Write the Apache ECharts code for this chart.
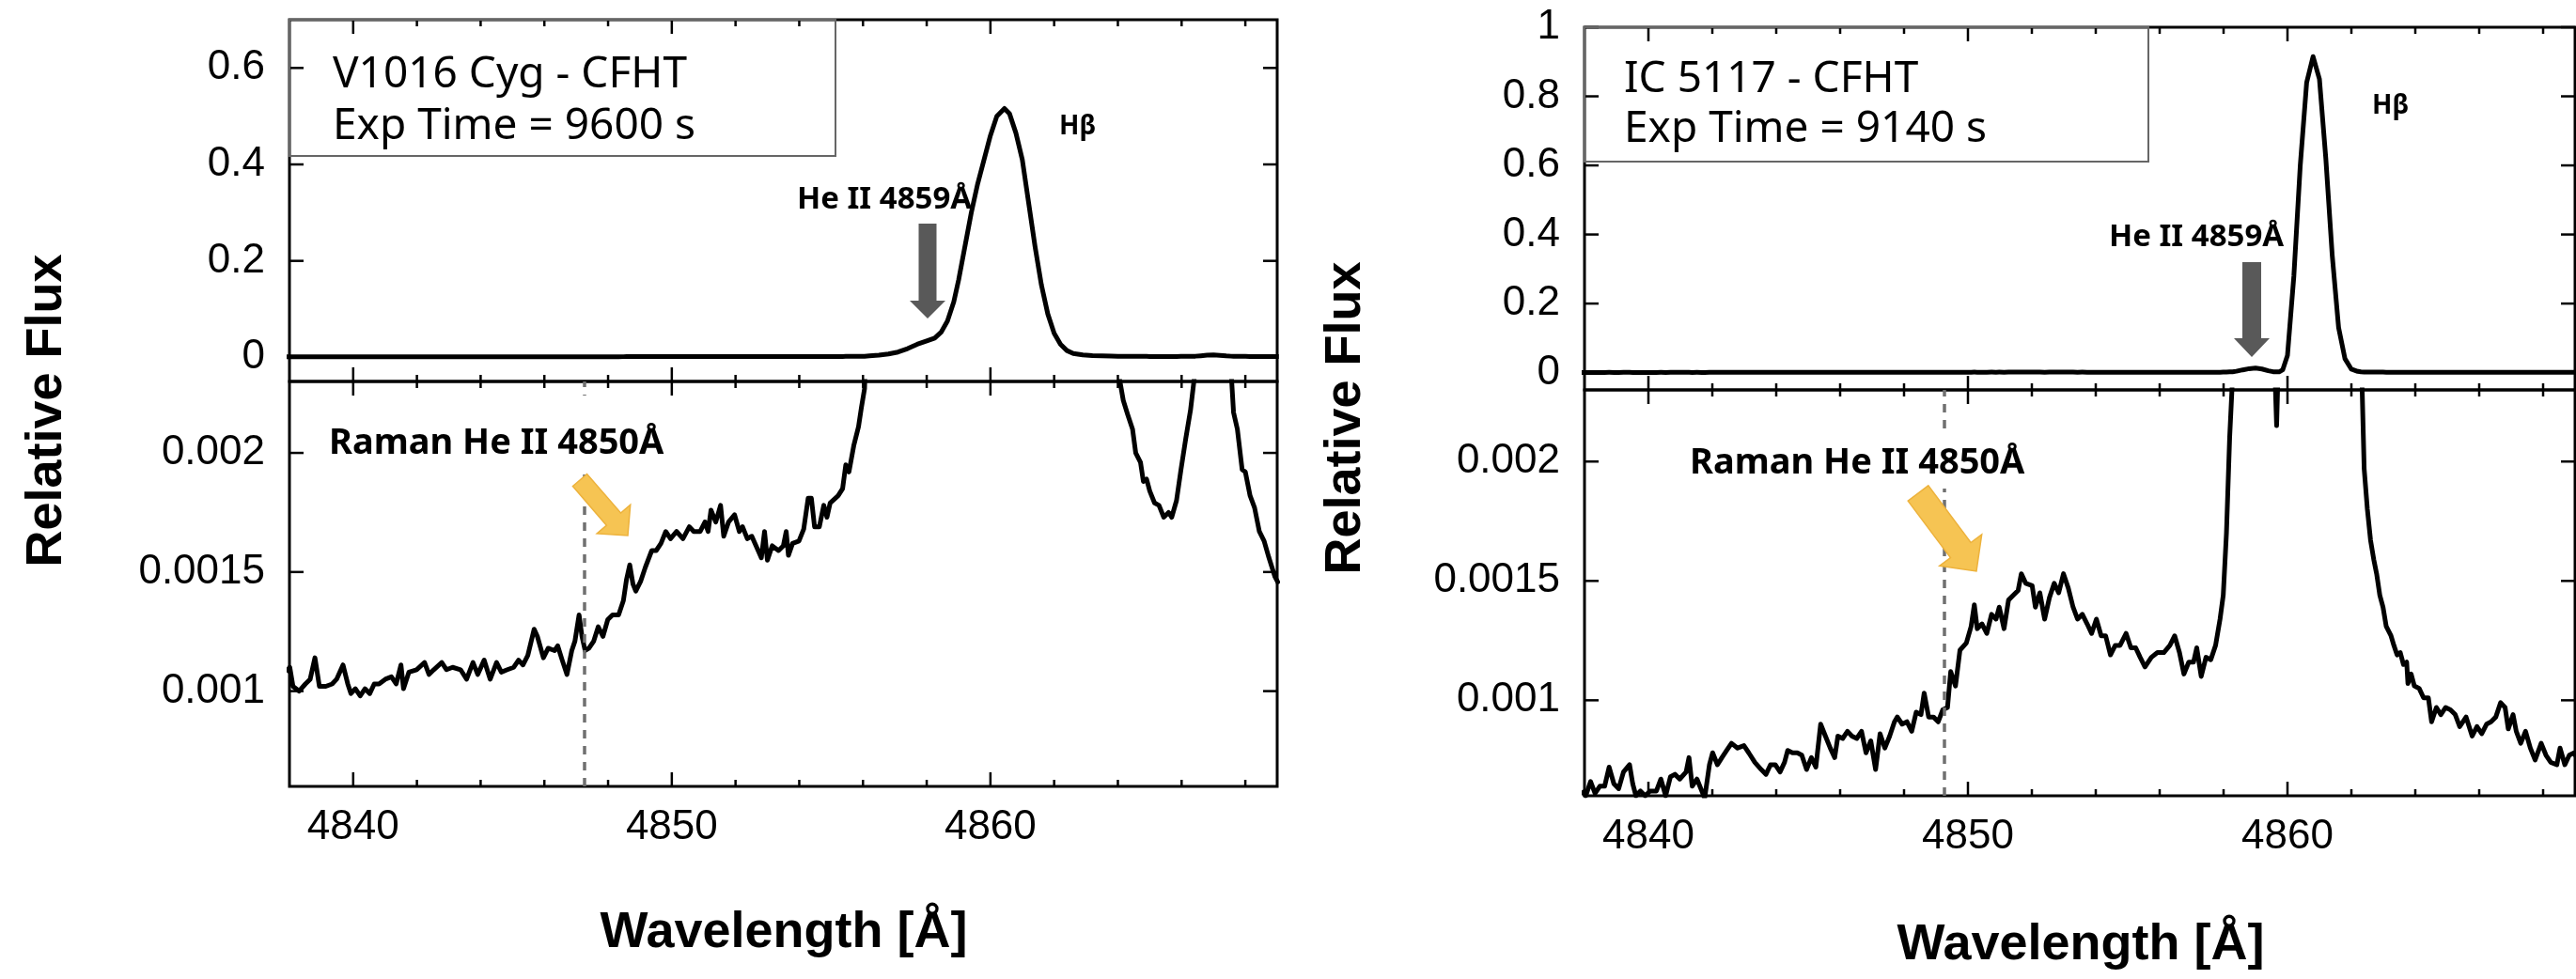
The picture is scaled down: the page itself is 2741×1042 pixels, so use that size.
<!DOCTYPE html>
<html>
<head>
<meta charset="utf-8">
<title>Raman He II 4850 - V1016 Cyg / IC 5117</title>
<script src="https://cdn.jsdelivr.net/npm/echarts@6/dist/echarts.min.js"></script>
<style>
  html, body { margin: 0; padding: 0; background: #fff; }
  #chart { width: 2741px; height: 1042px; }
</style>
</head>
<body>
<div id="chart"></div>
<script>
// V1016 Cyg - CFHT, wavelength [A] and relative flux
const v1016Wave = [
  4837.90, 4838.01, 4838.11, 4838.30, 4838.50, 4838.65, 4838.80, 4838.94, 4839.14, 4839.34,
  4839.48, 4839.68, 4839.83, 4839.93, 4840.07, 4840.22, 4840.37, 4840.52, 4840.66, 4840.81,
  4841.01, 4841.20, 4841.35, 4841.50, 4841.58, 4841.75, 4841.99, 4842.24, 4842.38, 4842.53,
  4842.78, 4842.93, 4843.12, 4843.37, 4843.56, 4843.76, 4843.91, 4844.11, 4844.30, 4844.50,
  4844.65, 4844.84, 4845.04, 4845.19, 4845.33, 4845.48, 4845.68, 4845.78, 4845.97, 4846.12,
  4846.32, 4846.42, 4846.56, 4846.71, 4846.86, 4846.96, 4847.09, 4847.18, 4847.28, 4847.40,
  4847.55, 4847.69, 4847.84, 4847.99, 4848.14, 4848.33, 4848.48, 4848.58, 4848.68, 4848.78,
  4848.87, 4849.02, 4849.17, 4849.37, 4849.51, 4849.66, 4849.81, 4849.96, 4850.15, 4850.35,
  4850.55, 4850.69, 4850.89, 4851.04, 4851.14, 4851.23, 4851.38, 4851.53, 4851.63, 4851.78,
  4851.97, 4852.12, 4852.22, 4852.37, 4852.51, 4852.71, 4852.81, 4852.91, 4853.00, 4853.15,
  4853.35, 4853.50, 4853.59, 4853.66, 4853.79, 4853.99, 4854.14, 4854.28, 4854.38, 4854.48,
  4854.63, 4854.77, 4854.87, 4854.97, 4855.22, 4855.36, 4855.46, 4855.56, 4855.71, 4855.86,
  4855.95, 4856.05, 4856.20, 4856.50, 4856.80, 4857.10, 4857.40, 4857.70, 4858.00, 4858.25,
  4858.45, 4858.65, 4858.85, 4859.00, 4859.20, 4859.40, 4859.60, 4859.80, 4860.00, 4860.20,
  4860.44, 4860.60, 4860.80, 4861.00, 4861.20, 4861.40, 4861.60, 4861.80, 4862.00, 4862.20,
  4862.40, 4862.60, 4862.90, 4863.20, 4863.50, 4863.80, 4864.00, 4864.17, 4864.31, 4864.46,
  4864.56, 4864.71, 4864.80, 4864.90, 4865.00, 4865.15, 4865.29, 4865.44, 4865.59, 4865.69,
  4865.84, 4865.98, 4866.13, 4866.28, 4866.43, 4866.60, 4866.80, 4867.00, 4867.20, 4867.40,
  4867.55, 4867.63, 4867.75, 4867.90, 4868.00, 4868.15, 4868.29, 4868.44, 4868.59, 4868.74,
  4868.93, 4869.05
];
const v1016Flux = [
  0.00108, 0.00110, 0.00102, 0.00100, 0.00103, 0.00105, 0.00114, 0.00102, 0.00102, 0.00103,
  0.00105, 0.00111, 0.00103, 0.00099, 0.00101, 0.00098, 0.00101, 0.00099, 0.00103, 0.00103,
  0.00105, 0.00106, 0.00103, 0.00111, 0.00101, 0.00108, 0.00109, 0.00112, 0.00107, 0.00109,
  0.00112, 0.00109, 0.00110, 0.00109, 0.00105, 0.00112, 0.00107, 0.00113, 0.00105, 0.00112,
  0.00108, 0.00109, 0.00110, 0.00113, 0.00111, 0.00115, 0.00126, 0.00123, 0.00114, 0.00118,
  0.00117, 0.00119, 0.00113, 0.00107, 0.00117, 0.00121, 0.00132, 0.00123, 0.00117, 0.00118,
  0.00121, 0.00127, 0.00123, 0.00130, 0.00132, 0.00132, 0.00138, 0.00147, 0.00153, 0.00145,
  0.00142, 0.00146, 0.00152, 0.00159, 0.00159, 0.00162, 0.00167, 0.00164, 0.00167, 0.00164,
  0.00169, 0.00167, 0.00167, 0.00171, 0.00167, 0.00176, 0.00171, 0.00178, 0.00165, 0.00171,
  0.00174, 0.00167, 0.00169, 0.00164, 0.00165, 0.00159, 0.00156, 0.00167, 0.00155, 0.00161,
  0.00159, 0.00161, 0.00167, 0.00157, 0.00162, 0.00163, 0.00168, 0.00181, 0.00181, 0.00169,
  0.00169, 0.00178, 0.00173, 0.00179, 0.00182, 0.00185, 0.00195, 0.00192, 0.00203, 0.00211,
  0.00219, 0.00227, 0.0030, 0.0045, 0.0070, 0.011, 0.018, 0.027, 0.034, 0.040,
  0.052, 0.075, 0.115, 0.160, 0.230, 0.300, 0.360, 0.410, 0.460, 0.500,
  0.516, 0.505, 0.465, 0.410, 0.320, 0.230, 0.150, 0.090, 0.050, 0.027,
  0.014, 0.008, 0.005, 0.0036, 0.0029, 0.0025, 0.00235, 0.00222, 0.00216, 0.00210,
  0.00200, 0.00196, 0.00188, 0.00189, 0.00184, 0.00179, 0.00178, 0.00173, 0.00175, 0.00173,
  0.00180, 0.00193, 0.00206, 0.00218, 0.00235, 0.0033, 0.0045, 0.0049, 0.0041, 0.0029,
  0.00235, 0.00217, 0.00210, 0.00193, 0.00192, 0.00182, 0.00177, 0.00167, 0.00163, 0.00156,
  0.00148, 0.00145
];

// IC 5117 - CFHT
const ic5117Wave = [
  4837.90, 4838.04, 4838.19, 4838.33, 4838.48, 4838.63, 4838.77, 4838.92, 4839.07, 4839.22,
  4839.41, 4839.51, 4839.61, 4839.75, 4839.90, 4840.05, 4840.25, 4840.39, 4840.54, 4840.69,
  4840.83, 4840.98, 4841.18, 4841.27, 4841.37, 4841.52, 4841.67, 4841.76, 4841.91, 4842.01,
  4842.16, 4842.30, 4842.45, 4842.60, 4842.79, 4842.99, 4843.14, 4843.33, 4843.53, 4843.68,
  4843.82, 4843.97, 4844.12, 4844.26, 4844.36, 4844.51, 4844.66, 4844.80, 4844.95, 4845.10,
  4845.24, 4845.39, 4845.54, 4845.69, 4845.83, 4845.93, 4846.08, 4846.23, 4846.37, 4846.52,
  4846.67, 4846.81, 4846.96, 4847.11, 4847.25, 4847.40, 4847.55, 4847.70, 4847.79, 4847.94,
  4848.09, 4848.24, 4848.38, 4848.53, 4848.63, 4848.77, 4848.92, 4849.07, 4849.21, 4849.36,
  4849.46, 4849.61, 4849.75, 4849.95, 4850.10, 4850.20, 4850.29, 4850.44, 4850.59, 4850.74,
  4850.88, 4850.98, 4851.13, 4851.27, 4851.42, 4851.57, 4851.67, 4851.81, 4852.01, 4852.11,
  4852.25, 4852.40, 4852.55, 4852.70, 4852.84, 4852.99, 4853.14, 4853.29, 4853.43, 4853.58,
  4853.73, 4853.87, 4854.02, 4854.17, 4854.31, 4854.46, 4854.61, 4854.76, 4854.95, 4855.10,
  4855.25, 4855.39, 4855.54, 4855.74, 4855.93, 4856.13, 4856.32, 4856.47, 4856.62, 4856.76,
  4856.91, 4857.06, 4857.16, 4857.30, 4857.45, 4857.60, 4857.75, 4857.89, 4857.99, 4858.09,
  4858.19, 4858.28, 4858.40, 4858.60, 4858.80, 4859.00, 4859.20, 4859.40, 4859.55, 4859.66,
  4859.75, 4859.85, 4860.00, 4860.20, 4860.40, 4860.60, 4860.80, 4861.00, 4861.20, 4861.40,
  4861.60, 4861.80, 4862.00, 4862.20, 4862.30, 4862.40, 4862.50, 4862.60, 4862.70, 4862.79,
  4862.89, 4862.99, 4863.09, 4863.24, 4863.33, 4863.43, 4863.53, 4863.63, 4863.73, 4863.77,
  4863.87, 4863.97, 4864.12, 4864.26, 4864.41, 4864.51, 4864.66, 4864.80, 4864.95, 4865.10,
  4865.25, 4865.39, 4865.59, 4865.78, 4865.93, 4866.08, 4866.23, 4866.37, 4866.52, 4866.67,
  4866.81, 4866.91, 4867.06, 4867.16, 4867.30, 4867.45, 4867.60, 4867.75, 4867.94, 4868.09,
  4868.24, 4868.43, 4868.53, 4868.68, 4868.82, 4868.97, 4869.05
];
const ic5117Flux = [
  0.00062, 0.00060, 0.00066, 0.00061, 0.00064, 0.00064, 0.00072, 0.00065, 0.00063, 0.00070,
  0.00073, 0.00065, 0.00060, 0.00062, 0.00060, 0.00062, 0.00062, 0.00067, 0.00060, 0.00068,
  0.00069, 0.00067, 0.00070, 0.00076, 0.00064, 0.00067, 0.00062, 0.00059, 0.00073, 0.00078,
  0.00073, 0.00076, 0.00079, 0.00082, 0.00080, 0.00081, 0.00078, 0.00074, 0.00071, 0.00069,
  0.00073, 0.00073, 0.00070, 0.00074, 0.00079, 0.00078, 0.00078, 0.00077, 0.00071, 0.00076,
  0.00072, 0.00090, 0.00085, 0.00080, 0.00076, 0.00085, 0.00084, 0.00087, 0.00085, 0.00084,
  0.00087, 0.00078, 0.00083, 0.00071, 0.00086, 0.00080, 0.00085, 0.00091, 0.00093, 0.00090,
  0.00091, 0.00087, 0.00095, 0.00094, 0.00103, 0.00093, 0.00093, 0.00091, 0.00096, 0.00097,
  0.00112, 0.00106, 0.00121, 0.00124, 0.00131, 0.00140, 0.00130, 0.00132, 0.00128, 0.00136,
  0.00134, 0.00139, 0.00130, 0.00142, 0.00144, 0.00146, 0.00153, 0.00149, 0.00148, 0.00139,
  0.00145, 0.00134, 0.00143, 0.00149, 0.00145, 0.00153, 0.00147, 0.00139, 0.00134, 0.00136,
  0.00132, 0.00128, 0.00134, 0.00127, 0.00127, 0.00119, 0.00123, 0.00123, 0.00128, 0.00122,
  0.00122, 0.00118, 0.00114, 0.00118, 0.00120, 0.00120, 0.00123, 0.00127, 0.00120, 0.00111,
  0.00116, 0.00116, 0.00122, 0.00110, 0.00118, 0.00117, 0.00123, 0.00134, 0.00144, 0.00170,
  0.00210, 0.00235, 0.0040, 0.0080, 0.0115, 0.0130, 0.0105, 0.0055, 0.0026, 0.00215,
  0.0026, 0.0080, 0.050, 0.280, 0.600, 0.840, 0.915, 0.850, 0.620, 0.340,
  0.130, 0.040, 0.010, 0.0035, 0.0025, 0.00197, 0.00180, 0.00167, 0.00159, 0.00153,
  0.00144, 0.00139, 0.00131, 0.00127, 0.00123, 0.00119, 0.00120, 0.00115, 0.00116, 0.00107,
  0.00111, 0.00106, 0.00105, 0.00101, 0.00101, 0.00091, 0.00097, 0.00094, 0.00097, 0.00096,
  0.00094, 0.00089, 0.00093, 0.00085, 0.00089, 0.00086, 0.00090, 0.00091, 0.00093, 0.00099,
  0.00097, 0.00088, 0.00094, 0.00087, 0.00082, 0.00087, 0.00080, 0.00075, 0.00082, 0.00077,
  0.00074, 0.00073, 0.00080, 0.00073, 0.00077, 0.00078, 0.00076
];

// ticks
const majorTicks = [4840, 4850, 4860];
const minorTicks = [4842, 4844, 4846, 4848, 4852, 4854, 4856, 4858, 4862, 4864, 4866, 4868];
const upperTicksV1016 = [0, 0.2, 0.4, 0.6];
const upperTicksIC5117 = [0, 0.2, 0.4, 0.6, 0.8, 1];
const lowerTicks = [0.001, 0.0015, 0.002];

// Raman He II 4850 marker positions
const ramanLineV1016 = 4847.25;
const ramanLineIC5117 = 4849.26;

const WAVE_MIN = 4838, WAVE_MAX = 4869;
const LOWER_MIN = 0.0006, LOWER_MAX = 0.0023;
const UPPER_MIN = -0.05;

const MAJOR_LEN = 15, MINOR_LEN = 7, TICK_W = 2.5;
const labelFont = { fontFamily: '"Liberation Sans", Arial, sans-serif', fontSize: 44, color: '#000' };
const noLine = { show: false, onZero: false };

const panels = [
  { left: 308, width: 1051, top: 21, upperH: 385, lowerH: 431, upperMax: 0.7,
    upperTicks: upperTicksV1016, wave: v1016Wave, flux: v1016Flux, raman: ramanLineV1016 },
  { left: 1686, width: 1054, top: 29, upperH: 386, lowerH: 432, upperMax: 1.0,
    upperTicks: upperTicksIC5117, wave: ic5117Wave, flux: ic5117Flux, raman: ramanLineIC5117 }
];

const grids = [], xAxes = [], yAxes = [], series = [];

function tickLine(x1, y1, x2, y2) {
  return { type: 'line', shape: { x1: x1, y1: y1, x2: x2, y2: y2 }, style: { stroke: '#000', lineWidth: TICK_W } };
}

// inside ticks on all four sides, drawn through the grid's own scales
function addTicks(g, yTicks) {
  const xItems = majorTicks.map(function (v) { return [v, MAJOR_LEN]; })
    .concat(minorTicks.map(function (v) { return [v, MINOR_LEN]; }));
  series.push({
    type: 'custom', xAxisIndex: g, yAxisIndex: g, silent: true, clip: false, z: 5,
    data: xItems,
    renderItem: function (params, api) {
      const cs = params.coordSys;
      const x = api.coord([api.value(0), api.value(1)])[0];
      const len = api.value(1);
      return { type: 'group', children: [
        tickLine(x, cs.y, x, cs.y + len),
        tickLine(x, cs.y + cs.height, x, cs.y + cs.height - len)
      ] };
    }
  });
  series.push({
    type: 'custom', xAxisIndex: g, yAxisIndex: g, silent: true, clip: false, z: 5,
    data: yTicks.map(function (v) { return [WAVE_MIN, v]; }),
    renderItem: function (params, api) {
      const cs = params.coordSys;
      const y = api.coord([api.value(0), api.value(1)])[1];
      return { type: 'group', children: [
        tickLine(cs.x, y, cs.x + MAJOR_LEN, y),
        tickLine(cs.x + cs.width, y, cs.x + cs.width - MAJOR_LEN, y)
      ] };
    }
  });
}

function addSpectrum(g, wave, flux, raman) {
  const s = {
    type: 'line', xAxisIndex: g, yAxisIndex: g,
    data: wave.map(function (w, i) { return [w, flux[i]]; }),
    symbol: 'none', showSymbol: false, silent: true, clip: true, z: 3,
    lineStyle: { color: '#000', width: 5, join: 'round' }
  };
  if (raman) {
    s.markLine = {
      silent: true, symbol: ['none', 'none'], label: { show: false }, animation: false,
      lineStyle: { color: '#707070', width: 3.5, type: [9, 8] },
      data: [{ xAxis: raman }]
    };
  }
  series.push(s);
}

function addGrid(left, top, width, height, yMin, yMax, yTicks, withXLabels) {
  const g = grids.length;
  grids.push({ left: left, top: top, width: width, height: height, show: true,
    borderColor: '#000', borderWidth: 3, backgroundColor: 'transparent', containLabel: false, outerBoundsMode: 'none' });
  xAxes.push({
    type: 'value', gridIndex: g, position: 'bottom', min: WAVE_MIN, max: WAVE_MAX,
    axisLine: noLine, splitLine: { show: false }, axisTick: { show: false },
    axisLabel: withXLabels
      ? Object.assign({ customValues: majorTicks, margin: 22, formatter: function (v) { return String(v); } }, labelFont)
      : { show: false }
  });
  yAxes.push({
    type: 'value', gridIndex: g, position: 'left', min: yMin, max: yMax,
    axisLine: noLine, splitLine: { show: false }, axisTick: { show: false },
    axisLabel: Object.assign({ customValues: yTicks, margin: 26, formatter: function (v) { return String(v); } }, labelFont)
  });
  addTicks(g, yTicks);
  return g;
}

panels.forEach(function (p) {
  const gUp = addGrid(p.left, p.top, p.width, p.upperH, UPPER_MIN, p.upperMax, p.upperTicks, false);
  addSpectrum(gUp, p.wave, p.flux, null);
  const gLow = addGrid(p.left, p.top + p.upperH, p.width, p.lowerH, LOWER_MIN, LOWER_MAX, lowerTicks, true);
  addSpectrum(gLow, p.wave, p.flux, p.raman);
});

// block arrow outline from tail centre to tip
function blockArrow(tail, tip, shaftW, headW, headLen) {
  const dx = tip[0] - tail[0], dy = tip[1] - tail[1];
  const len = Math.hypot(dx, dy);
  const ux = dx / len, uy = dy / len;
  const px = -uy, py = ux;
  const bx = tip[0] - ux * headLen, by = tip[1] - uy * headLen;
  const s = shaftW / 2, h = headW / 2;
  return [
    [tail[0] + px * s, tail[1] + py * s],
    [bx + px * s, by + py * s],
    [bx + px * h, by + py * h],
    [tip[0], tip[1]],
    [bx - px * h, by - py * h],
    [bx - px * s, by - py * s],
    [tail[0] - px * s, tail[1] - py * s]
  ];
}

function txt(x, y, text, font, align, extra) {
  return Object.assign({
    type: 'text', x: x, y: y, z: 60,
    style: { text: text, font: font, fill: '#000', align: align, textAlign: align,
      verticalAlign: 'middle', textVerticalAlign: 'middle' }
  }, extra || {});
}

const legendFont = '46px "Noto Sans"';
const noteFont = 'bold 33px "Noto Sans"';
const ramanFont = 'bold 38px "Noto Sans"';
const hbFont = 'bold 28px "Noto Sans"';
const titleFont = 'bold 54px "Liberation Sans", Arial, sans-serif';

const graphics = [
  // legend boxes
  { type: 'rect', z: 55, shape: { x: 308, y: 21, width: 581, height: 145 }, style: { fill: 'none', stroke: '#666', lineWidth: 2 } },
  { type: 'rect', z: 55, shape: { x: 1686, y: 29, width: 600, height: 143 }, style: { fill: 'none', stroke: '#666', lineWidth: 2 } },
  txt(354, 80, 'V1016 Cyg - CFHT', legendFont, 'left'),
  txt(354, 135, 'Exp Time = 9600 s', legendFont, 'left'),
  txt(1728, 85, 'IC 5117 - CFHT', legendFont, 'left'),
  txt(1728, 138, 'Exp Time = 9140 s', legendFont, 'left'),
  // line labels
  txt(848, 213, 'He II 4859Å', noteFont, 'left'),
  txt(1127, 135, 'Hβ', hbFont, 'left'),
  txt(2244, 253, 'He II 4859Å', noteFont, 'left'),
  txt(2524, 113, 'Hβ', hbFont, 'left'),
  // Raman labels with white backing over the dashed marker
  { type: 'rect', z: 50, shape: { x: 346, y: 421, width: 372, height: 80 }, style: { fill: '#fff' } },
  { type: 'rect', z: 50, shape: { x: 1794, y: 462, width: 368, height: 58 }, style: { fill: '#fff' } },
  txt(350, 472, 'Raman He II 4850Å', ramanFont, 'left'),
  txt(1798, 493, 'Raman He II 4850Å', ramanFont, 'left'),
  // arrows
  { type: 'polygon', z: 70, shape: { points: blockArrow([987, 238], [987, 339], 19, 38, 19) }, style: { fill: '#595959' } },
  { type: 'polygon', z: 70, shape: { points: blockArrow([2396, 279], [2396, 380], 20, 38, 20) }, style: { fill: '#595959' } },
  { type: 'polygon', z: 70, shape: { points: blockArrow([617, 511], [668, 570], 20, 47, 23) }, style: { fill: '#F6C453', stroke: '#EDB23C', lineWidth: 1.5 } },
  { type: 'polygon', z: 70, shape: { points: blockArrow([2041, 525], [2103, 608], 27, 56, 28) }, style: { fill: '#F6C453', stroke: '#EDB23C', lineWidth: 1.5 } },
  // axis titles
  txt(834, 993, 'Wavelength [Å]', titleFont, 'center'),
  txt(2214, 1006, 'Wavelength [Å]', titleFont, 'center'),
  txt(50, 437, 'Relative Flux', titleFont, 'center', { rotation: Math.PI / 2 }),
  txt(1432, 445, 'Relative Flux', titleFont, 'center', { rotation: Math.PI / 2 })
];

const chart = echarts.init(document.getElementById('chart'), null, { renderer: 'canvas' });
chart.setOption({
  animation: false,
  backgroundColor: '#fff',
  grid: grids,
  xAxis: xAxes,
  yAxis: yAxes,
  series: series,
  graphic: { elements: graphics }
});
</script>
</body>
</html>
